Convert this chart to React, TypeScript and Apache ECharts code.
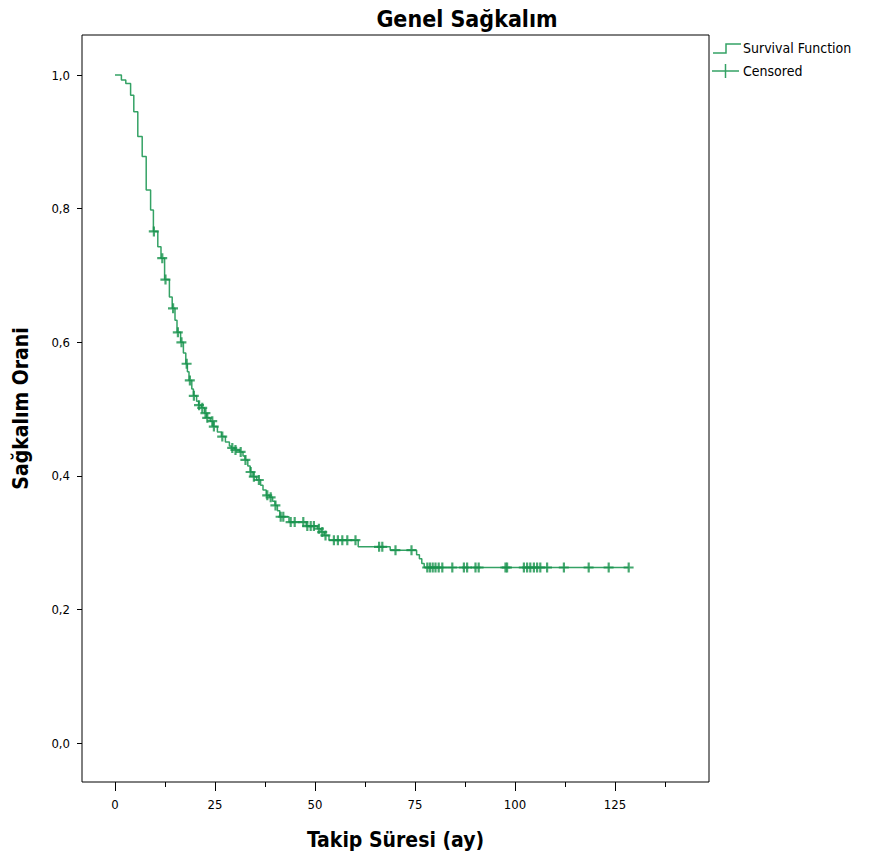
import React, { useEffect, useRef } from "react";
import * as echarts from "echarts";

// Kaplan-Meier step curve: event times (months) and survival after each event
const eventTimes = [
  0, 1.6, 2.7, 3.9, 4.7, 5.7, 6.8, 7.8, 8.9, 9.6, 10.7, 11.5, 12.4, 13.6, 14.3,
  15.0, 15.5, 16.4, 17.1, 17.7, 18.1, 18.5, 19.2, 19.6, 20.4, 20.9, 21.6, 22.4,
  22.9, 23.8, 24.5, 25.6, 26.6, 27.6, 28.6, 29.1, 30.0, 31.2, 32.0, 32.5, 33.2,
  33.8, 34.5, 35.4, 36.4, 37.0, 37.8, 38.7, 39.4, 40.0, 40.6, 41.2, 43.5, 47.8,
  50.6, 51.5, 52.3, 53.5, 60.8, 68.8, 75.4, 76.1, 76.7, 77.3,
];
const eventSurvival = [
  1.0, 0.9925, 0.9875, 0.97, 0.945, 0.908, 0.878, 0.828, 0.798, 0.766, 0.743,
  0.726, 0.694, 0.668, 0.651, 0.633, 0.615, 0.6, 0.584, 0.568, 0.556, 0.543,
  0.53, 0.52, 0.512, 0.506, 0.502, 0.494, 0.487, 0.482, 0.474, 0.466, 0.459,
  0.451, 0.445, 0.442, 0.439, 0.436, 0.43, 0.424, 0.415, 0.406, 0.399, 0.394,
  0.386, 0.379, 0.371, 0.368, 0.362, 0.356, 0.348, 0.339, 0.331, 0.325, 0.321,
  0.316, 0.311, 0.304, 0.294, 0.289, 0.282, 0.276, 0.269, 0.263,
];
// Censored observation times (months)
const censorTimes = [
  9.7, 11.8, 12.6, 14.5, 15.7, 16.6, 17.9, 18.7, 19.7, 21.0, 21.8, 22.6, 23.05,
  24.3, 24.7, 26.8, 29.3, 30.1, 31.4, 32.6, 33.9, 34.7, 35.95, 38.05, 38.9,
  40.1, 41.4, 42.05, 43.9, 44.9, 47.05, 48.05, 48.9, 49.7, 50.95, 51.8, 52.6,
  54.7, 55.7, 56.8, 58.05, 60.1, 66.0, 66.8, 70.1, 74.1, 78.05, 78.7, 79.4,
  80.1, 80.9, 81.8, 84.3, 87.2, 88.0, 90.1, 90.9, 97.6, 98.0, 102.2, 103.0,
  103.8, 104.7, 105.5, 106.3, 108.0, 112.2, 118.4, 123.4, 128.4,
];

const xMajorTicks = [0, 25, 50, 75, 100, 125];
const xMinorTicks = [12.5, 37.5, 62.5, 87.5, 112.5, 137.5];
const yTicks = [0, 0.2, 0.4, 0.6, 0.8, 1.0];

const TITLE = "Genel Sağkalım";
const X_NAME = "Takip Süresi (ay)";
const Y_NAME = "Sağkalım Orani";
const LEGEND_SURV = "Survival Function";
const LEGEND_CENS = "Censored";

const FONT = "'Liberation Sans Narrow', 'DejaVu Sans Condensed', 'Liberation Sans', sans-serif";
const LINE_COLOR = "#34a265";
const CENS_COLOR = "#16924c";

function survivalAt(t: number): number {
  let s = eventSurvival[0];
  for (let i = 0; i < eventTimes.length; i++) {
    if (eventTimes[i] <= t) s = eventSurvival[i];
  }
  return s;
}

export default function App() {
  const ref = useRef<HTMLDivElement>(null);
  useEffect(() => {
    if (!ref.current) return;
    const chart = echarts.init(ref.current, undefined, { renderer: "svg" });
    const lastT = censorTimes[censorTimes.length - 1];
    const lineData: number[][] = eventTimes.map((t, i) => [t, eventSurvival[i]]);
    lineData.push([lastT, survivalAt(lastT)]);
    const censData = censorTimes.map((t) => [t, survivalAt(t)]);

    const plus = "path://M4,0H6.2V3.9H10V6.1H6.2V10H4V6.1H0V3.9H4Z";

    chart.setOption({
      animation: false,
      backgroundColor: "#ffffff",
      grid: {
        left: 82,
        top: 35,
        right: 161,
        bottom: 77,
        show: true,
        containLabel: false,
        outerBoundsMode: "none",
        borderColor: "#000",
        borderWidth: 1,
        backgroundColor: "transparent",
      },
      xAxis: [
        {
          type: "value",
          min: -8.25,
          max: 148.5,
          position: "bottom",
          axisLine: { show: false, onZero: false },
          splitLine: { show: false },
          axisTick: { show: true, length: 9, customValues: xMajorTicks, lineStyle: { color: "#000" } },
          axisLabel: {
            customValues: xMajorTicks,
            margin: 16,
            color: "#000",
            fontSize: 13,
            fontFamily: FONT,
          },
          name: X_NAME,
          nameLocation: "middle",
          nameGap: 47,
          nameTextStyle: { fontSize: 21, fontWeight: "bold", color: "#000", fontFamily: FONT },
        },
        {
          type: "value",
          min: -8.25,
          max: 148.5,
          position: "bottom",
          axisLine: { show: false, onZero: false },
          splitLine: { show: false },
          axisTick: { show: true, length: 5, customValues: xMinorTicks, lineStyle: { color: "#000" } },
          axisLabel: { show: false },
        },
      ],
      yAxis: {
        type: "value",
        min: -0.058,
        max: 1.06,
        axisLine: { show: false, onZero: false },
        splitLine: { show: false },
        axisTick: { show: true, length: 5, customValues: yTicks, lineStyle: { color: "#000" } },
        axisLabel: {
          customValues: yTicks,
          margin: 12,
          color: "#000",
          fontSize: 13,
          fontFamily: FONT,
          formatter: (v: number) => v.toFixed(1).replace(".", ","),
        },
        name: Y_NAME,
        nameLocation: "middle",
        nameGap: 51,
        nameTextStyle: { fontSize: 21, fontWeight: "bold", color: "#000", fontFamily: FONT },
      },
      series: [
        {
          type: "line",
          name: LEGEND_SURV,
          step: "end",
          data: lineData,
          symbol: "none",
          lineStyle: { color: LINE_COLOR, width: 1.5 },
          z: 2,
        },
        {
          type: "scatter",
          name: LEGEND_CENS,
          data: censData,
          symbol: plus,
          symbolSize: 10,
          itemStyle: { color: CENS_COLOR },
          z: 3,
        },
      ],
      graphic: [
        {
          type: "text",
          x: 467,
          y: 19,
          style: {
            text: TITLE,
            textAlign: "center",
            textVerticalAlign: "middle",
            fontSize: 23,
            fontWeight: "bold",
            fontFamily: FONT,
            fill: "#000",
          },
        },
        {
          type: "polyline",
          shape: { points: [[713, 53], [726, 53], [726, 44], [741, 44]] },
          style: { stroke: LINE_COLOR, lineWidth: 1.5, fill: "none" },
        },
        {
          type: "text",
          x: 743,
          y: 48,
          style: {
            text: LEGEND_SURV,
            textVerticalAlign: "middle",
            fontSize: 14,
            fontFamily: FONT,
            fill: "#000",
          },
        },
        {
          type: "line",
          shape: { x1: 712, y1: 71, x2: 739, y2: 71 },
          style: { stroke: LINE_COLOR, lineWidth: 1.5 },
        },
        {
          type: "line",
          shape: { x1: 725.5, y1: 64, x2: 725.5, y2: 78 },
          style: { stroke: LINE_COLOR, lineWidth: 1.5 },
        },
        {
          type: "text",
          x: 743,
          y: 71,
          style: {
            text: LEGEND_CENS,
            textVerticalAlign: "middle",
            fontSize: 14,
            fontFamily: FONT,
            fill: "#000",
          },
        },
      ],
    });
    return () => chart.dispose();
  }, []);
  return (
    <div
      ref={ref}
      style={{ position: "fixed", left: 0, top: 0, width: 870, height: 859, background: "#fff" }}
    />
  );
}
